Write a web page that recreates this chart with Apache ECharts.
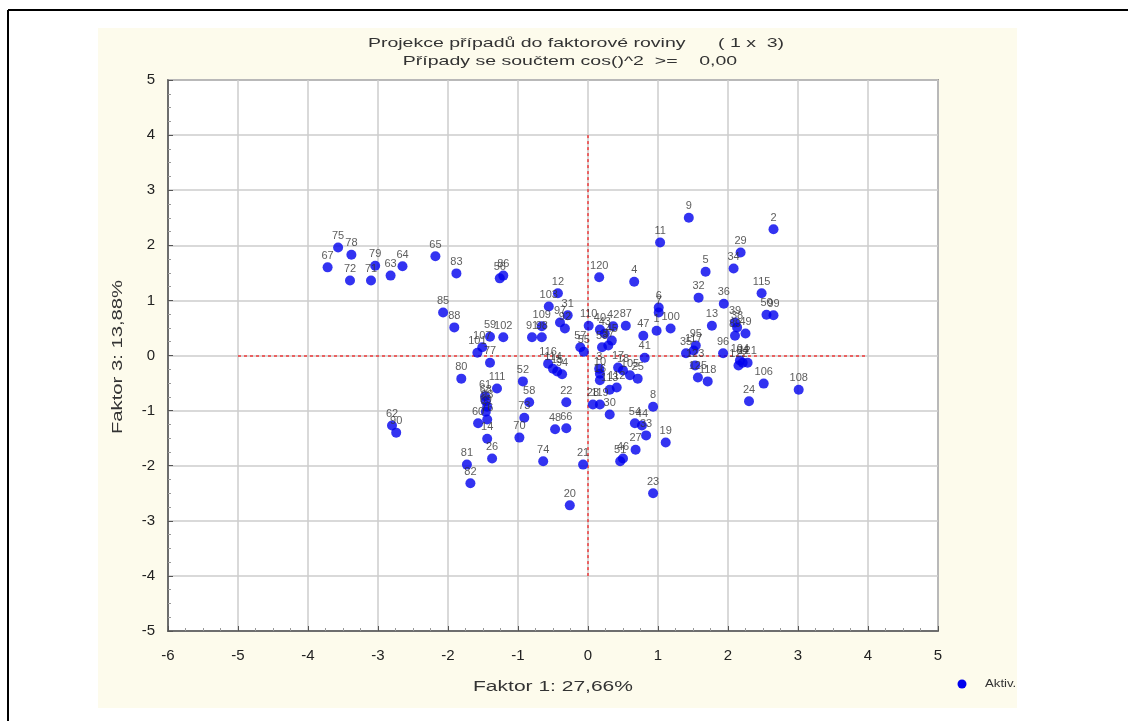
<!DOCTYPE html>
<html>
<head>
<meta charset="utf-8">
<script src="https://cdn.jsdelivr.net/npm/echarts@6/dist/echarts.min.js"></script>
<style>
  html, body { margin: 0; padding: 0; background: #ffffff; }
  #chart { width: 1138px; height: 721px; }
</style>
</head>
<body>
<div id="chart"></div>
<script>
// Case labels and their coordinates on factors 1 and 3
const caseNames = [
  '75','78','67','72','79','71','63','64','65','83',
  '56','86','85','88','59','102','101','107','77','80',
  '111','61','68','93','69','60','76','14','26','81',
  '82','62','90','52','58','73','70','22','48','66',
  '74','116','114','15','94','11','120','4','12','103',
  '31','97','92','109','91','98','110','40','42','87',
  '43','45','37','53','57','55','47','6','7','1',
  '100','41','3','10','16','17','18','105','25','112',
  '113','28','119','30','8','54','44','33','19','27',
  '46','51','21','23','20','9','2','29','34','5',
  '115','32','36','50','99','13','39','38','49','89',
  '95','117','35','96','104','84','121','122','123','125',
  '118','106','24','108'
];
const factor1 = [
  -3.57,-3.38,-3.72,-3.40,-3.04,-3.10,-2.82,-2.65,-2.18,-1.88,
  -1.26,-1.21,-2.07,-1.91,-1.40,-1.21,-1.58,-1.51,-1.40,-1.81,
  -1.30,-1.47,-1.46,-1.44,-1.46,-1.57,-1.44,-1.44,-1.37,-1.73,
  -1.68,-2.80,-2.74,-0.93,-0.84,-0.91,-0.98,-0.31,-0.47,-0.31,
  -0.64,-0.57,-0.50,-0.44,-0.37, 1.03, 0.16, 0.66,-0.43,-0.56,
  -0.29,-0.40,-0.33,-0.66,-0.80,-0.66, 0.01, 0.17, 0.36, 0.54,
   0.24, 0.34, 0.29, 0.20,-0.11,-0.06, 0.79, 1.01, 1.01, 0.98,
   1.18, 0.81, 0.16, 0.17, 0.17, 0.43, 0.50, 0.60, 0.71, 0.41,
   0.31, 0.07, 0.17, 0.31, 0.93, 0.67, 0.77, 0.83, 1.11, 0.68,
   0.50, 0.46,-0.07, 0.93,-0.26, 1.44, 2.65, 2.18, 2.08, 1.68,
   2.48, 1.58, 1.94, 2.55, 2.65, 1.77, 2.10, 2.13, 2.25, 2.10,
   1.54, 1.51, 1.40, 1.93, 2.17, 2.21, 2.28, 2.15, 1.53, 1.57,
   1.71, 2.51, 2.30, 3.01
];
const factor3 = [
   1.96, 1.83, 1.60, 1.36, 1.63, 1.36, 1.45, 1.62, 1.80, 1.49,
   1.40, 1.45, 0.78, 0.51, 0.34, 0.33, 0.05, 0.15,-0.13,-0.42,
  -0.60,-0.74,-0.83,-0.93,-1.02,-1.23,-1.16,-1.51,-1.87,-1.98,
  -2.32,-1.27,-1.40,-0.47,-0.85,-1.13,-1.49,-0.85,-1.34,-1.32,
  -1.92,-0.15,-0.24,-0.29,-0.34, 2.05, 1.42, 1.34, 1.13, 0.89,
   0.73, 0.60, 0.49, 0.53, 0.33, 0.33, 0.54, 0.47, 0.53, 0.54,
   0.40, 0.27, 0.18, 0.15, 0.15, 0.07, 0.36, 0.87, 0.78, 0.45,
   0.49,-0.04,-0.24,-0.33,-0.45,-0.22,-0.27,-0.36,-0.42,-0.58,
  -0.62,-0.89,-0.89,-1.07,-0.93,-1.23,-1.27,-1.45,-1.58,-1.71,
  -1.87,-1.92,-1.98,-2.50,-2.72, 2.50, 2.29, 1.87, 1.58, 1.52,
   1.13, 1.05, 0.94, 0.74, 0.73, 0.54, 0.60, 0.51, 0.40, 0.36,
   0.18, 0.09, 0.04, 0.04,-0.09,-0.13,-0.13,-0.18,-0.18,-0.40,
  -0.47,-0.51,-0.83,-0.62
];

// Axis settings and texts
const xRange = [-6, 5];
const yRange = [-5, 5];
const titleLine1 = 'Projekce případů do faktorové roviny      ( 1 x  3)';
const titleLine2 = 'Případy se součtem cos()^2  >=    0,00';
const xAxisTitle = 'Faktor 1: 27,66%';
const yAxisTitle = 'Faktor 3: 13,88%';
const seriesName = 'Aktiv.';

const FONT = '"Liberation Sans", Arial, sans-serif';
const TEXT_COLOR = '#333333';
const points = caseNames.map((n, i) => ({ name: n, value: [factor1[i], factor3[i]] }));

const chart = echarts.init(document.getElementById('chart'), null, { renderer: 'canvas' });

// Wide, slightly stretched caption text
function caption(text, x, y, size, stretch, rotation) {
  return {
    type: 'text', x: x, y: y, z: 20, scaleX: stretch, rotation: rotation || 0,
    style: { text: text, fill: TEXT_COLOR, fontSize: size, fontFamily: FONT,
             align: 'center', verticalAlign: 'middle' }
  };
}

const axisCommon = {
  type: 'value',
  interval: 1,
  axisLine: { show: true, onZero: false, lineStyle: { color: '#555555', width: 1.5 } },
  axisTick: { show: true, inside: true, length: 5, lineStyle: { color: '#555555' } },
  minorTick: { show: true, splitNumber: 4, length: 3, lineStyle: { color: '#999999' } },
  splitLine: { show: true, lineStyle: { color: '#cdcdcd', width: 1.5 } },
  axisLabel: { color: '#222222', fontSize: 15, fontFamily: FONT }
};

chart.setOption({
  animation: false,
  backgroundColor: '#ffffff',
  graphic: [
    { type: 'rect', z: -10, shape: { x: 98, y: 28, width: 919, height: 680 }, style: { fill: '#fdfbec' } },
    { type: 'line', z: 10, shape: { x1: 8, y1: 10, x2: 1128, y2: 10 }, style: { stroke: '#000000', lineWidth: 2 } },
    { type: 'line', z: 10, shape: { x1: 8, y1: 10, x2: 8, y2: 721 }, style: { stroke: '#000000', lineWidth: 2 } },
    caption(titleLine1, 576, 43, 13, 1.5),
    caption(titleLine2, 570, 61, 13, 1.5),
    caption(xAxisTitle, 553, 687, 15, 1.4),
    caption(yAxisTitle, 118, 357, 15, 1.35, Math.PI / 2),
    { type: 'circle', z: 20, shape: { cx: 962, cy: 684, r: 4.5 }, style: { fill: '#0000ee' } },
    { type: 'text', x: 985, y: 684, z: 20, scaleX: 1.2,
      style: { text: seriesName, fill: TEXT_COLOR, fontSize: 11, fontFamily: FONT,
               align: 'left', verticalAlign: 'middle' } }
  ],
  grid: {
    left: 168, right: 200, top: 80, bottom: 90,
    show: true, backgroundColor: '#ffffff', borderColor: '#555555', borderWidth: 1.5
  },
  xAxis: Object.assign({}, axisCommon, {
    min: xRange[0], max: xRange[1],
    axisLabel: Object.assign({}, axisCommon.axisLabel, { margin: 17 })
  }),
  yAxis: Object.assign({}, axisCommon, {
    min: yRange[0], max: yRange[1],
    axisLabel: Object.assign({}, axisCommon.axisLabel, { margin: 13 })
  }),
  series: [{
    name: seriesName,
    type: 'scatter',
    data: points,
    symbol: 'circle',
    symbolSize: 10,
    itemStyle: { color: '#0000ee' },
    label: {
      show: true, position: 'top', distance: 1,
      formatter: p => p.name,
      color: TEXT_COLOR, fontSize: 11, fontFamily: FONT
    },
    markLine: {
      silent: true, symbol: 'none', animation: false, z: 1,
      label: { show: false },
      lineStyle: { color: '#ee3333', type: [3, 3], width: 1.6, opacity: 0.9 },
      data: [
        [{ coord: [0, 4] }, { coord: [0, -4] }],
        [{ coord: [-5, 0] }, { coord: [4, 0] }]
      ]
    }
  }]
});
</script>
</body>
</html>
